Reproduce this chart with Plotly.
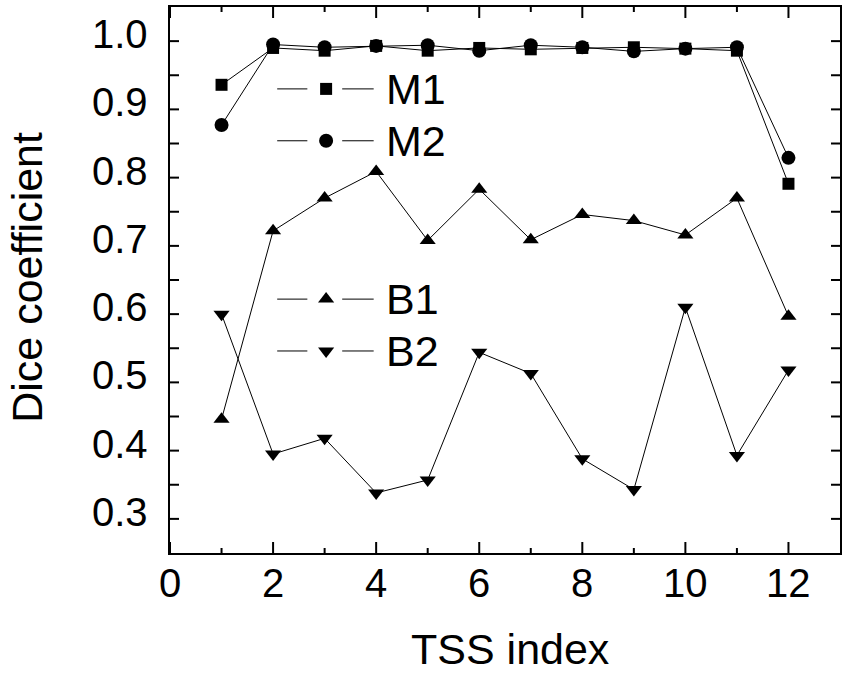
import plotly.graph_objects as go

# ---- data ----
tss_index = [1, 2, 3, 4, 5, 6, 7, 8, 9, 10, 11, 12]
m1 = [0.936, 0.990, 0.986, 0.993, 0.986, 0.990, 0.988, 0.990, 0.991, 0.989, 0.986, 0.791]
m2 = [0.877, 0.995, 0.991, 0.993, 0.994, 0.986, 0.994, 0.991, 0.985, 0.989, 0.991, 0.829]
b1 = [0.446, 0.722, 0.770, 0.809, 0.708, 0.783, 0.709, 0.746, 0.737, 0.716, 0.770, 0.597]
b2 = [0.600, 0.395, 0.418, 0.338, 0.357, 0.544, 0.513, 0.388, 0.343, 0.610, 0.393, 0.518]

series_names = ["M1", "M2", "B1", "B2"]
series_values = [m1, m2, b1, b2]
series_symbols = ["square", "circle", "triangle-up", "triangle-down"]
series_sizes = [12, 14, 14, 14]

x_range = [0, 13]
y_range = [0.25, 1.05]
x_major_ticks = [0, 2, 4, 6, 8, 10, 12]
x_tick_labels = ["0", "2", "4", "6", "8", "10", "12"]
x_minor_ticks = [1, 3, 5, 7, 9, 11]
y_label_ticks = [0.3, 0.4, 0.5, 0.6, 0.7, 0.8, 0.9, 1.0]
y_tick_labels = ["0.3", "0.4", "0.5", "0.6", "0.7", "0.8", "0.9", "1.0"]
y_ticks = [0.30, 0.35, 0.40, 0.45, 0.50, 0.55, 0.60, 0.65, 0.70, 0.75,
           0.80, 0.85, 0.90, 0.95, 1.00]
x_title = "TSS index"
y_title = "Dice coefficient"

# legend rows (paper fractions of the plot area for the hand-drawn legend)
legend_y = [0.85, 0.755, 0.465, 0.37]
legend_line_left = (0.16, 0.205)
legend_marker_x = 0.233
legend_line_right = (0.257, 0.304)
legend_text_x = 0.319

font_family = "Liberation Sans, Arial, sans-serif"

fig = go.Figure()

for name, vals, sym, sz in zip(series_names, series_values, series_symbols, series_sizes):
    fig.add_trace(go.Scatter(
        x=tss_index, y=vals, mode="lines+markers", name=name,
        line=dict(color="black", width=1),
        marker=dict(symbol=sym, size=sz, color="black"),
        showlegend=False,
    ))

def px_x(f):
    return x_range[0] + f * (x_range[1] - x_range[0])

def px_y(f):
    return y_range[0] + f * (y_range[1] - y_range[0])

shapes = []
annotations = []
for name, yy, sym, sz in zip(series_names, legend_y, series_symbols, series_sizes):
    fig.add_trace(go.Scatter(
        x=[px_x(legend_marker_x)], y=[px_y(yy)], mode="markers",
        marker=dict(symbol=sym, size=sz, color="black"),
        showlegend=False, hoverinfo="skip", cliponaxis=False,
    ))
    for (x0, x1) in (legend_line_left, legend_line_right):
        shapes.append(dict(type="line", xref="paper", yref="paper",
                           x0=x0, x1=x1, y0=yy, y1=yy,
                           line=dict(color="black", width=1)))
    annotations.append(dict(xref="paper", yref="paper", x=legend_text_x, y=yy,
                            text=name, showarrow=False, xanchor="left", yanchor="middle",
                            font=dict(size=43, color="black", family=font_family)))

# inward tick marks on all four sides (pixel-length shapes anchored to the axes)
tick_style = dict(color="black", width=2)
for v, ln in [(v, 11) for v in x_major_ticks] + [(v, 5) for v in x_minor_ticks]:
    shapes.append(dict(type="line", xref="x", yref="paper", ysizemode="pixel",
                       yanchor=0, x0=v, x1=v, y0=0, y1=ln, line=tick_style))
    shapes.append(dict(type="line", xref="x", yref="paper", ysizemode="pixel",
                       yanchor=1, x0=v, x1=v, y0=0, y1=-ln, line=tick_style))
for v in y_ticks:
    shapes.append(dict(type="line", xref="paper", yref="y", xsizemode="pixel",
                       xanchor=0, x0=0, x1=9, y0=v, y1=v, line=tick_style))
    shapes.append(dict(type="line", xref="paper", yref="y", xsizemode="pixel",
                       xanchor=1, x0=0, x1=-9, y0=v, y1=v, line=tick_style))

# tick labels, placed through the axis scales
tick_font = dict(size=40, color="black", family=font_family)
for v, t in zip(x_major_ticks, x_tick_labels):
    annotations.append(dict(xref="x", yref="paper", x=v, y=0, text=t, showarrow=False,
                            xanchor="center", yanchor="middle", yshift=-30,
                            font=tick_font))
for v, t in zip(y_label_ticks, y_tick_labels):
    annotations.append(dict(xref="paper", yref="y", x=0, y=v, text=t, showarrow=False,
                            xanchor="right", yanchor="middle", xshift=-20, yshift=7,
                            font=tick_font))

# axis titles
annotations.append(dict(xref="paper", yref="paper", x=0.5085, y=0, text=x_title,
                        showarrow=False, xanchor="center", yanchor="middle", yshift=-96,
                        font=dict(size=43, color="black", family=font_family)))
annotations.append(dict(xref="paper", yref="paper", x=0, y=0.504, text=y_title,
                        showarrow=False, xanchor="center", yanchor="middle", xshift=-143,
                        textangle=-90,
                        font=dict(size=43, color="black", family=font_family)))

fig.update_layout(
    width=847, height=673,
    margin=dict(l=170, r=5, t=6, b=120),
    paper_bgcolor="white", plot_bgcolor="white",
    font=dict(family=font_family, color="black"),
    shapes=shapes, annotations=annotations,
    xaxis=dict(
        range=x_range, ticks="", showticklabels=False,
        showline=True, linewidth=2, linecolor="black", mirror=True,
        showgrid=False, zeroline=False,
    ),
    yaxis=dict(
        range=y_range, ticks="", showticklabels=False,
        showline=True, linewidth=2, linecolor="black", mirror=True,
        showgrid=False, zeroline=False,
    ),
)

fig.write_html("out.html")
